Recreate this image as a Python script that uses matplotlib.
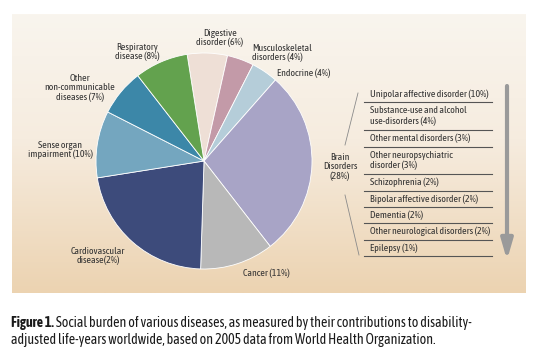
import numpy as np
import matplotlib.pyplot as plt
from matplotlib import font_manager
from matplotlib.colors import LinearSegmentedColormap

# look for a narrow sans face (one with a bold weight if possible)
faces = font_manager.fontManager.ttflist
narrow = sorted({f.name for f in faces if 'Narrow' in f.name or 'Condensed' in f.name})
with_bold = [n for n in narrow
             if any(f.name == n and font_manager.weight_dict.get(f.weight, f.weight) >= 600
                    for f in faces if isinstance(font_manager.weight_dict.get(f.weight, f.weight), int))]
if narrow:
    base = with_bold[0] if with_bold else narrow[0]
    fs, cfs = 7.1, 10.1
else:
    base = 'Liberation Sans'
    fs, cfs = 6.1, 8.2
plt.rcParams['font.family'] = [base, 'DejaVu Sans']

# pie data, clockwise from the top
labels = ['Digestive\ndisorder (6%)', 'Musculoskeletal\ndisorders (4%)', 'Endocrine (4%)',
          'Brain\nDisorders\n(28%)', 'Cancer (11%)', 'Cardiovascular\ndisease(2%)',
          'Sense organ\nimpairment (10%)', 'Other\nnon-communicable\ndiseases (7%)',
          'Respiratory\ndisease (8%)']
shares = [6, 4, 4, 28, 11, 22, 10, 7, 8]
colors = ['#eedfd6', '#c39aa8', '#b5cdd9', '#a8a4c6', '#b8b8b8', '#3d4b7b',
          '#74a6bf', '#3c87a8', '#63a24e']

# breakdown of the brain disorders slice
brain_items = ['Unipolar affective disorder (10%)',
               'Substance-use and alcohol\nuse-disorders (4%)',
               'Other mental disorders (3%)',
               'Other neuropsychiatric\ndisorder (3%)',
               'Schizophrenia (2%)',
               'Bipolar affective disorder (2%)',
               'Dementia (2%)',
               'Other neurological disorders (2%)',
               'Epilepsy (1%)']

W, H = 538, 350
fig = plt.figure(figsize=(W/100, H/100), dpi=100)
fig.patch.set_facecolor('white')

# overlay axes in pixel coordinates
ov = fig.add_axes([0, 0, 1, 1])
ov.axis('off')

# gradient panel
cmap = LinearSegmentedColormap.from_list('bg', [(0, '#f9f5ee'), (0.45, '#f6ecdf'), (1, '#ecd3b1')])
grad = np.linspace(0, 1, 256).reshape(-1, 1)
ov.imshow(grad, cmap=cmap, extent=[12, 526, 293, 14], aspect='auto', zorder=0)
ov.set_xlim(0, W)
ov.set_ylim(H, 0)

# pie
cx, cy, r = 204, 161, 108
pa = fig.add_axes([(cx - r)/W, (H - cy - r)/H, 2*r/W, 2*r/H])
pa.pie(shares, colors=colors, startangle=99, counterclock=False,
       wedgeprops=dict(linewidth=0.6, edgecolor='white'))
pa.set_xlim(-1, 1)
pa.set_ylim(-1, 1)
pa.set_zorder(2)

tc = '#333333'
# pie labels
pos = [(220, 38, 'center'), (252, 53, 'left'), (277, 73, 'left'), (340, 167, 'center'),
       (243, 273, 'left'), (98, 256, 'center'), (93, 150, 'right'), (80, 88, 'center'),
       (137, 52, 'center')]
for lab, (x, y, ha) in zip(labels, pos):
    ov.text(x, y, lab, ha=ha, va='center', fontsize=fs, color=tc, linespacing=1.05,
            multialignment='left' if ha == 'left' else 'center', zorder=5)

# leader lines to brain breakdown
ov.plot([345, 358], [145, 93], color='#8a8a8a', lw=0.6, zorder=4)
ov.plot([345, 359], [195, 255], color='#8a8a8a', lw=0.6, zorder=4)

# breakdown rows
top = 86
for item in brain_items:
    n = item.count('\n') + 1
    h = 16.3 + 11.6*(n - 1)
    ov.text(370, top + h/2, item, ha='left', va='center', fontsize=fs, color=tc,
            linespacing=1.15, zorder=5)
    top += h
    ov.plot([364, 492], [top, top], color='#555555', lw=0.8, zorder=4)

# arrow
ov.annotate('', xy=(507, 260), xytext=(507, 86),
            arrowprops=dict(arrowstyle='-|>,head_width=0.35,head_length=1.2',
                            color='#9a9a9a', lw=3, shrinkA=0, shrinkB=0), zorder=4)

# caption
tb = ov.text(11, 323, 'Figure 1.', fontsize=cfs, va='center', ha='left', color='#1a1a1a',
             fontweight='bold')
ov.annotate(' Social burden of various diseases, as measured by their contributions to disability-',
            xy=(1, 0.5), xycoords=tb, fontsize=cfs, va='center', ha='left', color='#1a1a1a')
ov.text(11, 340, 'adjusted life-years worldwide, based on 2005 data from World Health Organization.',
        fontsize=cfs, va='center', ha='left', color='#1a1a1a')

fig.savefig('out.png', dpi=100)
